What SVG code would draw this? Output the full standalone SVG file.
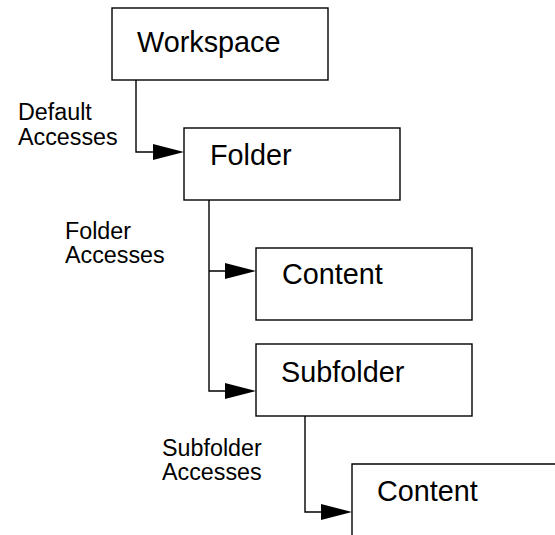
<svg xmlns="http://www.w3.org/2000/svg" width="555" height="535" viewBox="0 0 555 535">
  <style>
    .box { fill: #fff; stroke: #000; stroke-width: 1.4; }
    .edge { fill: none; stroke: #000; stroke-width: 1.4; }
    .head { fill: #000; stroke: none; }
    .title { font-family: "Liberation Sans", Arial, sans-serif; font-size: 28.8px; fill: #000; }
    .note { font-family: "Liberation Sans", Arial, sans-serif; font-size: 23.3px; fill: #000; }
  </style>
  <rect width="555" height="535" fill="#fff"/>

  <!-- connectors -->
  <g id="connectors">
    <path class="edge" d="M136,80 V152 H154"/>
    <polygon class="head" points="153,144 184,152 153,160"/>
    <path class="edge" d="M209,200 V391 H226 M209,271 H226"/>
    <polygon class="head" points="225,263 256,271 225,279"/>
    <polygon class="head" points="225,383 256,391 225,399"/>
    <path class="edge" d="M305,416 V512 H322"/>
    <polygon class="head" points="321,504 352,512 321,520"/>
  </g>

  <!-- edge labels -->
  <g id="labels">
    <text class="note" x="18" y="120">Default</text>
    <text class="note" x="18" y="145">Accesses</text>
    <text class="note" x="65" y="239">Folder</text>
    <text class="note" x="65" y="263">Accesses</text>
    <text class="note" x="162" y="456">Subfolder</text>
    <text class="note" x="162" y="480">Accesses</text>
  </g>

  <g id="workspace">
    <rect class="box" x="112" y="8" width="216" height="72"/>
    <text class="title" x="137" y="52">Workspace</text>
  </g>

  <g id="folder">
    <rect class="box" x="184" y="128" width="216" height="72"/>
    <text class="title" x="210" y="165">Folder</text>
  </g>

  <g id="content-folder">
    <rect class="box" x="256" y="248" width="216" height="72"/>
    <text class="title" x="282" y="284">Content</text>
  </g>

  <g id="subfolder">
    <rect class="box" x="256" y="344" width="216" height="72"/>
    <text class="title" x="281" y="382">Subfolder</text>
  </g>

  <g id="content-subfolder">
    <path class="edge" d="M352,536 V464 H556"/>
    <text class="title" x="377" y="501">Content</text>
  </g>
</svg>
